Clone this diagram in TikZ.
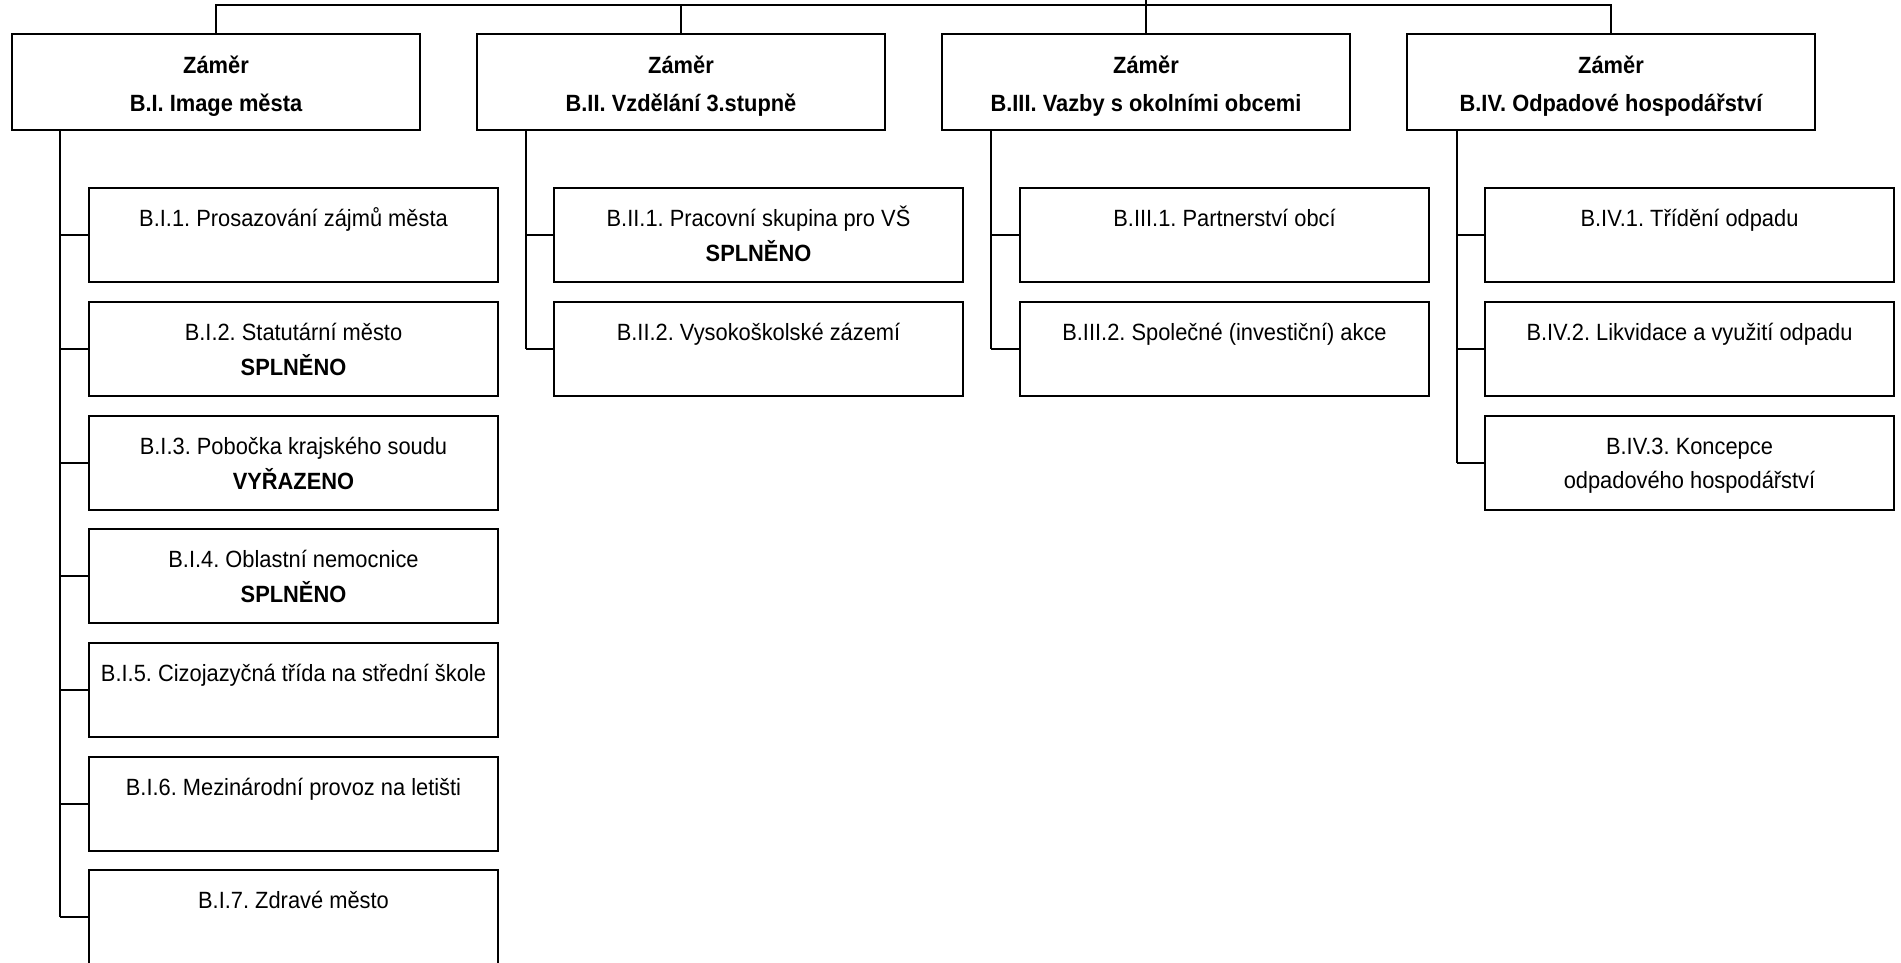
\documentclass[tikz,border=0pt]{standalone}
\usepackage{fontspec}
\setmainfont{Liberation Sans}[FakeStretch=0.93]
\frenchspacing
\begin{document}
\begin{tikzpicture}[x=1pt,y=-1pt,line width=2.2pt,
  hdr/.style={draw,rectangle,minimum width=408pt,minimum height=96pt,inner sep=0pt,align=center,
    text height=63pt,text depth=5pt,font=\fontsize{23.5}{30}\selectfont\bfseries},
  sub/.style={draw,rectangle,minimum width=409pt,minimum height=94pt,inner sep=0pt,align=center,
    text height=21pt,text depth=37.6pt,font=\fontsize{23.5}{30}\selectfont},
  subtwo/.style={sub,text height=56pt,text depth=2.6pt},
  link/.style={line width=2.2pt}]
\useasboundingbox (0,0) rectangle (1901,962);
\clip (0,0) rectangle (1901,962);
% top level
\coordinate (top) at (1146,-20);
\coordinate (bus) at (1146,5);
\node[hdr] (h1) at (216,82) {Záměr\\[8pt]B.I. Image města};
\node[hdr] (h2) at (681,82) {Záměr\\[8pt]B.II. Vzdělání 3.stupně};
\node[hdr] (h3) at (1146,82) {Záměr\\[8pt]B.III. Vazby s okolními obcemi};
\node[hdr] (h4) at (1611,82) {Záměr\\[8pt]B.IV. Odpadové hospodářství};
\draw[link] (top) -- (h3.north);
\draw[link] (h1.north) |- (bus) -| (h4.north);
\draw[link] (h2.north) -- (h2.north |- bus);
% children B.I
\node[sub] (c11) at (293.5,235) {B.I.1. Prosazování zájmů města};
\node[subtwo] (c12) at (293.5,349) {B.I.2. Statutární město\\[5pt]\textbf{SPLNĚNO}};
\node[subtwo] (c13) at (293.5,463) {B.I.3. Pobočka krajského soudu\\[5pt]\textbf{VYŘAZENO}};
\node[subtwo] (c14) at (293.5,576) {B.I.4. Oblastní nemocnice\\[5pt]\textbf{SPLNĚNO}};
\node[sub] (c15) at (293.5,690) {B.I.5. Cizojazyčná třída na střední škole};
\node[sub] (c16) at (293.5,804) {B.I.6. Mezinárodní provoz na letišti};
\node[sub] (c17) at (293.5,917) {B.I.7. Zdravé město};
% children B.II
\node[subtwo] (c21) at (758.5,235) {B.II.1. Pracovní skupina pro VŠ\\[5pt]\textbf{SPLNĚNO}};
\node[sub] (c22) at (758.5,349) {B.II.2. Vysokoškolské zázemí};
% children B.III
\node[sub] (c31) at (1224.5,235) {B.III.1. Partnerství obcí};
\node[sub] (c32) at (1224.5,349) {B.III.2. Společné (investiční) akce};
% children B.IV
\node[sub] (c41) at (1689.5,235) {B.IV.1. Třídění odpadu};
\node[sub] (c42) at (1689.5,349) {B.IV.2. Likvidace a využití odpadu};
\node[subtwo,text height=55pt,text depth=3.6pt] (c43) at (1689.5,463) {B.IV.3. Koncepce\\[4pt]odpadového hospodářství};
% stems
\coordinate (s1) at ([xshift=49pt]h1.south west);
\coordinate (s2) at ([xshift=50pt]h2.south west);
\coordinate (s3) at ([xshift=50pt]h3.south west);
\coordinate (s4) at ([xshift=51pt]h4.south west);
\foreach \c in {c11,c12,c13,c14,c15,c16,c17} \draw[link] (s1 |- \c.west) -- (\c.west);
\draw[link] (s1) -- (s1 |- c17.west);
\foreach \c in {c21,c22} \draw[link] (s2 |- \c.west) -- (\c.west);
\draw[link] (s2) -- (s2 |- c22.west);
\foreach \c in {c31,c32} \draw[link] (s3 |- \c.west) -- (\c.west);
\draw[link] (s3) -- (s3 |- c32.west);
\foreach \c in {c41,c42,c43} \draw[link] (s4 |- \c.west) -- (\c.west);
\draw[link] (s4) -- (s4 |- c43.west);
\end{tikzpicture}
\end{document}
